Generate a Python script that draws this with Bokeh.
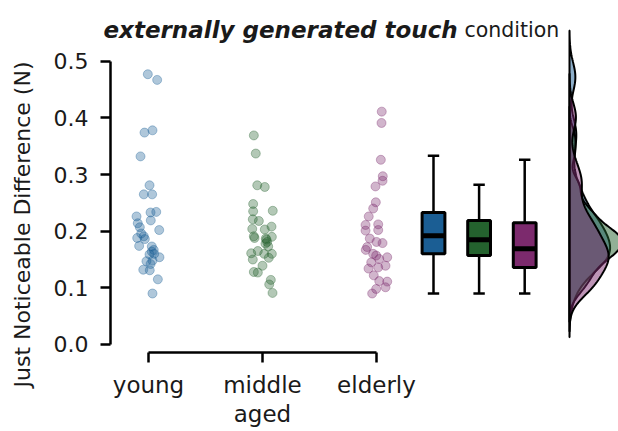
import numpy as np
from bokeh.plotting import figure
from bokeh.models import Range1d, FixedTicker, Label
from bokeh.embed import file_html
from bokeh.resources import INLINE

# ---------------- data ----------------
groups = ["young", "middle aged", "elderly"]
tick_labels = ["young", "middle\naged", "elderly"]
group_x = [0, 1, 2]
colors = ["#1b5e94", "#24622e", "#7c2a6d"]

young = [0.477, 0.467, 0.374, 0.378, 0.332, 0.281, 0.265, 0.265, 0.233, 0.234,
         0.226, 0.219, 0.214, 0.207, 0.202, 0.196, 0.191, 0.188, 0.186, 0.174,
         0.173, 0.167, 0.164, 0.154, 0.147, 0.148, 0.142, 0.132, 0.131, 0.115,
         0.090, 0.160, 0.159]
young_jitter = [-0.006, 0.076, -0.035, 0.035, -0.070, 0.009, -0.041, 0.032, 0.018, 0.068,
                -0.105, 0.020, -0.094, -0.076, 0.094, -0.064, -0.041, -0.099, -0.032, -0.082,
                0.029, 0.046, 0.029, 0.096, -0.018, 0.035, 0.018, -0.046, 0.011, 0.082,
                0.035, 0.050, 0.009]

middle = [0.369, 0.337, 0.281, 0.278, 0.248, 0.235, 0.236, 0.221, 0.218, 0.208,
          0.204, 0.203, 0.191, 0.188, 0.187, 0.190, 0.181, 0.173, 0.161, 0.165,
          0.160, 0.160, 0.150, 0.153, 0.139, 0.128, 0.127, 0.114, 0.106, 0.091,
          0.185, 0.178]
middle_jitter = [-0.076, -0.059, -0.046, 0.020, -0.082, -0.082, 0.090, -0.085, -0.032, 0.079,
                 -0.090, 0.020, -0.076, -0.070, 0.029, 0.082, 0.041, 0.050, -0.099, -0.041,
                 0.015, 0.082, -0.085, 0.055, 0.000, -0.076, -0.041, 0.073, 0.059, 0.088,
                 0.035, 0.026]

elderly = [0.411, 0.391, 0.326, 0.297, 0.289, 0.279, 0.251, 0.240, 0.226, 0.211,
           0.212, 0.201, 0.202, 0.187, 0.181, 0.179, 0.172, 0.167, 0.160, 0.157,
           0.154, 0.151, 0.145, 0.139, 0.136, 0.134, 0.122, 0.112, 0.111, 0.101,
           0.098, 0.090]
elderly_jitter = [0.046, 0.044, 0.038, 0.055, 0.053, -0.009, -0.006, -0.029, -0.068, -0.096,
                  0.015, -0.096, 0.015, -0.059, 0.000, 0.053, -0.082, -0.094, -0.029, -0.003,
                  0.094, 0.024, -0.046, 0.079, 0.015, -0.070, -0.024, 0.024, 0.094, 0.079,
                  -0.003, -0.038]

# box-plot statistics
box_x = [2.5, 2.9, 3.3]
box_low = [0.090, 0.090, 0.090]
box_q1 = [0.160, 0.157, 0.136]
box_median = [0.192, 0.185, 0.169]
box_q3 = [0.233, 0.219, 0.215]
box_high = [0.333, 0.282, 0.326]

y_ticks = [0.0, 0.1, 0.2, 0.3, 0.4, 0.5]
y_tick_labels = ["0.0", "0.1", "0.2", "0.3", "0.4", "0.5"]

title_bold = "externally generated touch"
title_rest = "condition"
y_title = "Just Noticeable Difference (N)"

FONT = "DejaVu Sans"
TXT = "#1a1a1a"

# ---------------- figure (frame covers the whole canvas) ----------------
X0, X1 = -1.2982, 4.1228
Y0, Y1 = -0.15355, 0.60713
p = figure(width=618, height=431,
           x_range=Range1d(X0, X1), y_range=Range1d(Y0, Y1),
           output_backend="svg", toolbar_location=None,
           min_border_left=0, min_border_right=0, min_border_top=0,
           min_border_bottom=0)
p.outline_line_color = None
p.xgrid.visible = False
p.ygrid.visible = False
p.background_fill_color = "white"
p.border_fill_color = "white"

# y axis (offset spine, trimmed to 0..0.5)
ya = p.yaxis[0]
ya.fixed_location = -0.3333
ya.ticker = FixedTicker(ticks=y_ticks, minor_ticks=[])
ya.major_label_overrides = {t: l for t, l in zip(y_ticks, y_tick_labels)}
ya.bounds = (0, 0.5)
ya.axis_line_width = 2.5
ya.axis_line_color = "black"
ya.major_tick_line_width = 2.5
ya.major_tick_line_color = "black"
ya.major_tick_out = 10
ya.major_tick_in = 0
ya.minor_tick_line_color = None
ya.major_label_standoff = 12
ya.major_label_text_font = FONT
ya.major_label_text_font_size = "22px"
ya.major_label_text_color = TXT

# x axis (offset spine, trimmed to the three groups)
xa = p.xaxis[0]
xa.fixed_location = -0.01412
xa.ticker = FixedTicker(ticks=group_x, minor_ticks=[])
xa.major_label_overrides = {x: l for x, l in zip(group_x, tick_labels)}
xa.bounds = (0, 2)
xa.axis_line_width = 2.5
xa.axis_line_color = "black"
xa.major_tick_line_width = 2.5
xa.major_tick_line_color = "black"
xa.major_tick_out = 10
xa.major_tick_in = 0
xa.minor_tick_line_color = None
xa.major_label_standoff = 10
xa.major_label_text_font = FONT
xa.major_label_text_font_size = "23px"
xa.major_label_text_line_height = 1.08
xa.major_label_text_color = TXT

# y-axis title
p.add_layout(Label(x=-1.1053, y=0.2118, text=y_title, angle=np.pi / 2,
                   text_font=FONT, text_font_size="22px", text_color=TXT,
                   text_align="center", text_baseline="middle"))

# jittered points
for gx, vals, jit, c in zip(group_x, [young, middle, elderly],
                            [young_jitter, middle_jitter, elderly_jitter], colors):
    xs = [gx + j for j in jit]
    p.scatter(xs, vals, size=9, fill_color=c, fill_alpha=0.35,
              line_color=c, line_alpha=0.35, line_width=1)

# box plots
p.segment(x0=box_x, y0=box_low, x1=box_x, y1=box_high, line_color="black", line_width=2.5)
cap_l = [b - 0.05 for b in box_x]
cap_r = [b + 0.05 for b in box_x]
p.segment(x0=cap_l, y0=box_high, x1=cap_r, y1=box_high, line_color="black", line_width=2.5)
p.segment(x0=cap_l, y0=box_low, x1=cap_r, y1=box_low, line_color="black", line_width=2.5)
p.vbar(x=box_x, width=0.2, bottom=box_q1, top=box_q3, fill_color=colors,
       line_color="black", line_width=3)
p.segment(x0=[b - 0.1 for b in box_x], y0=box_median, x1=[b + 0.1 for b in box_x],
          y1=box_median, line_color="black", line_width=5)

# marginal densities (Gaussian KDE of the points above)
dens_base = 3.693
kdes = []
for vals in [young, middle, elderly]:
    v = np.asarray(vals)
    bw = 0.55 * v.std(ddof=1) * len(v) ** (-1 / 5)
    grid = np.linspace(v.min() - 3 * bw, v.max() + 3 * bw, 300)
    d = np.exp(-0.5 * ((grid[:, None] - v[None, :]) / bw) ** 2).sum(1) / (len(v) * bw * np.sqrt(2 * np.pi))
    kdes.append((grid, d))
dmax = max(d.max() for _, d in kdes)
scale = 0.46 / dmax
for (grid, d), c in zip(kdes, colors):
    xs = [dens_base] + list(dens_base + d * scale) + [dens_base]
    ys = [grid[0]] + list(grid) + [grid[-1]]
    p.patch(xs, ys, fill_color=c, fill_alpha=0.5, line_color="black", line_width=2)

# title (two styles)
p.add_layout(Label(x=-0.3947, y=0.5559, text=title_bold,
                   text_font=FONT, text_font_style="bold italic", text_font_size="23px",
                   text_color=TXT, text_align="left", text_baseline="alphabetic"))
p.add_layout(Label(x=2.7719, y=0.5559, text=title_rest,
                   text_font=FONT, text_font_style="normal", text_font_size="20.5px",
                   text_color=TXT, text_align="left", text_baseline="alphabetic"))

open("out.html", "w").write(file_html(p, INLINE))
